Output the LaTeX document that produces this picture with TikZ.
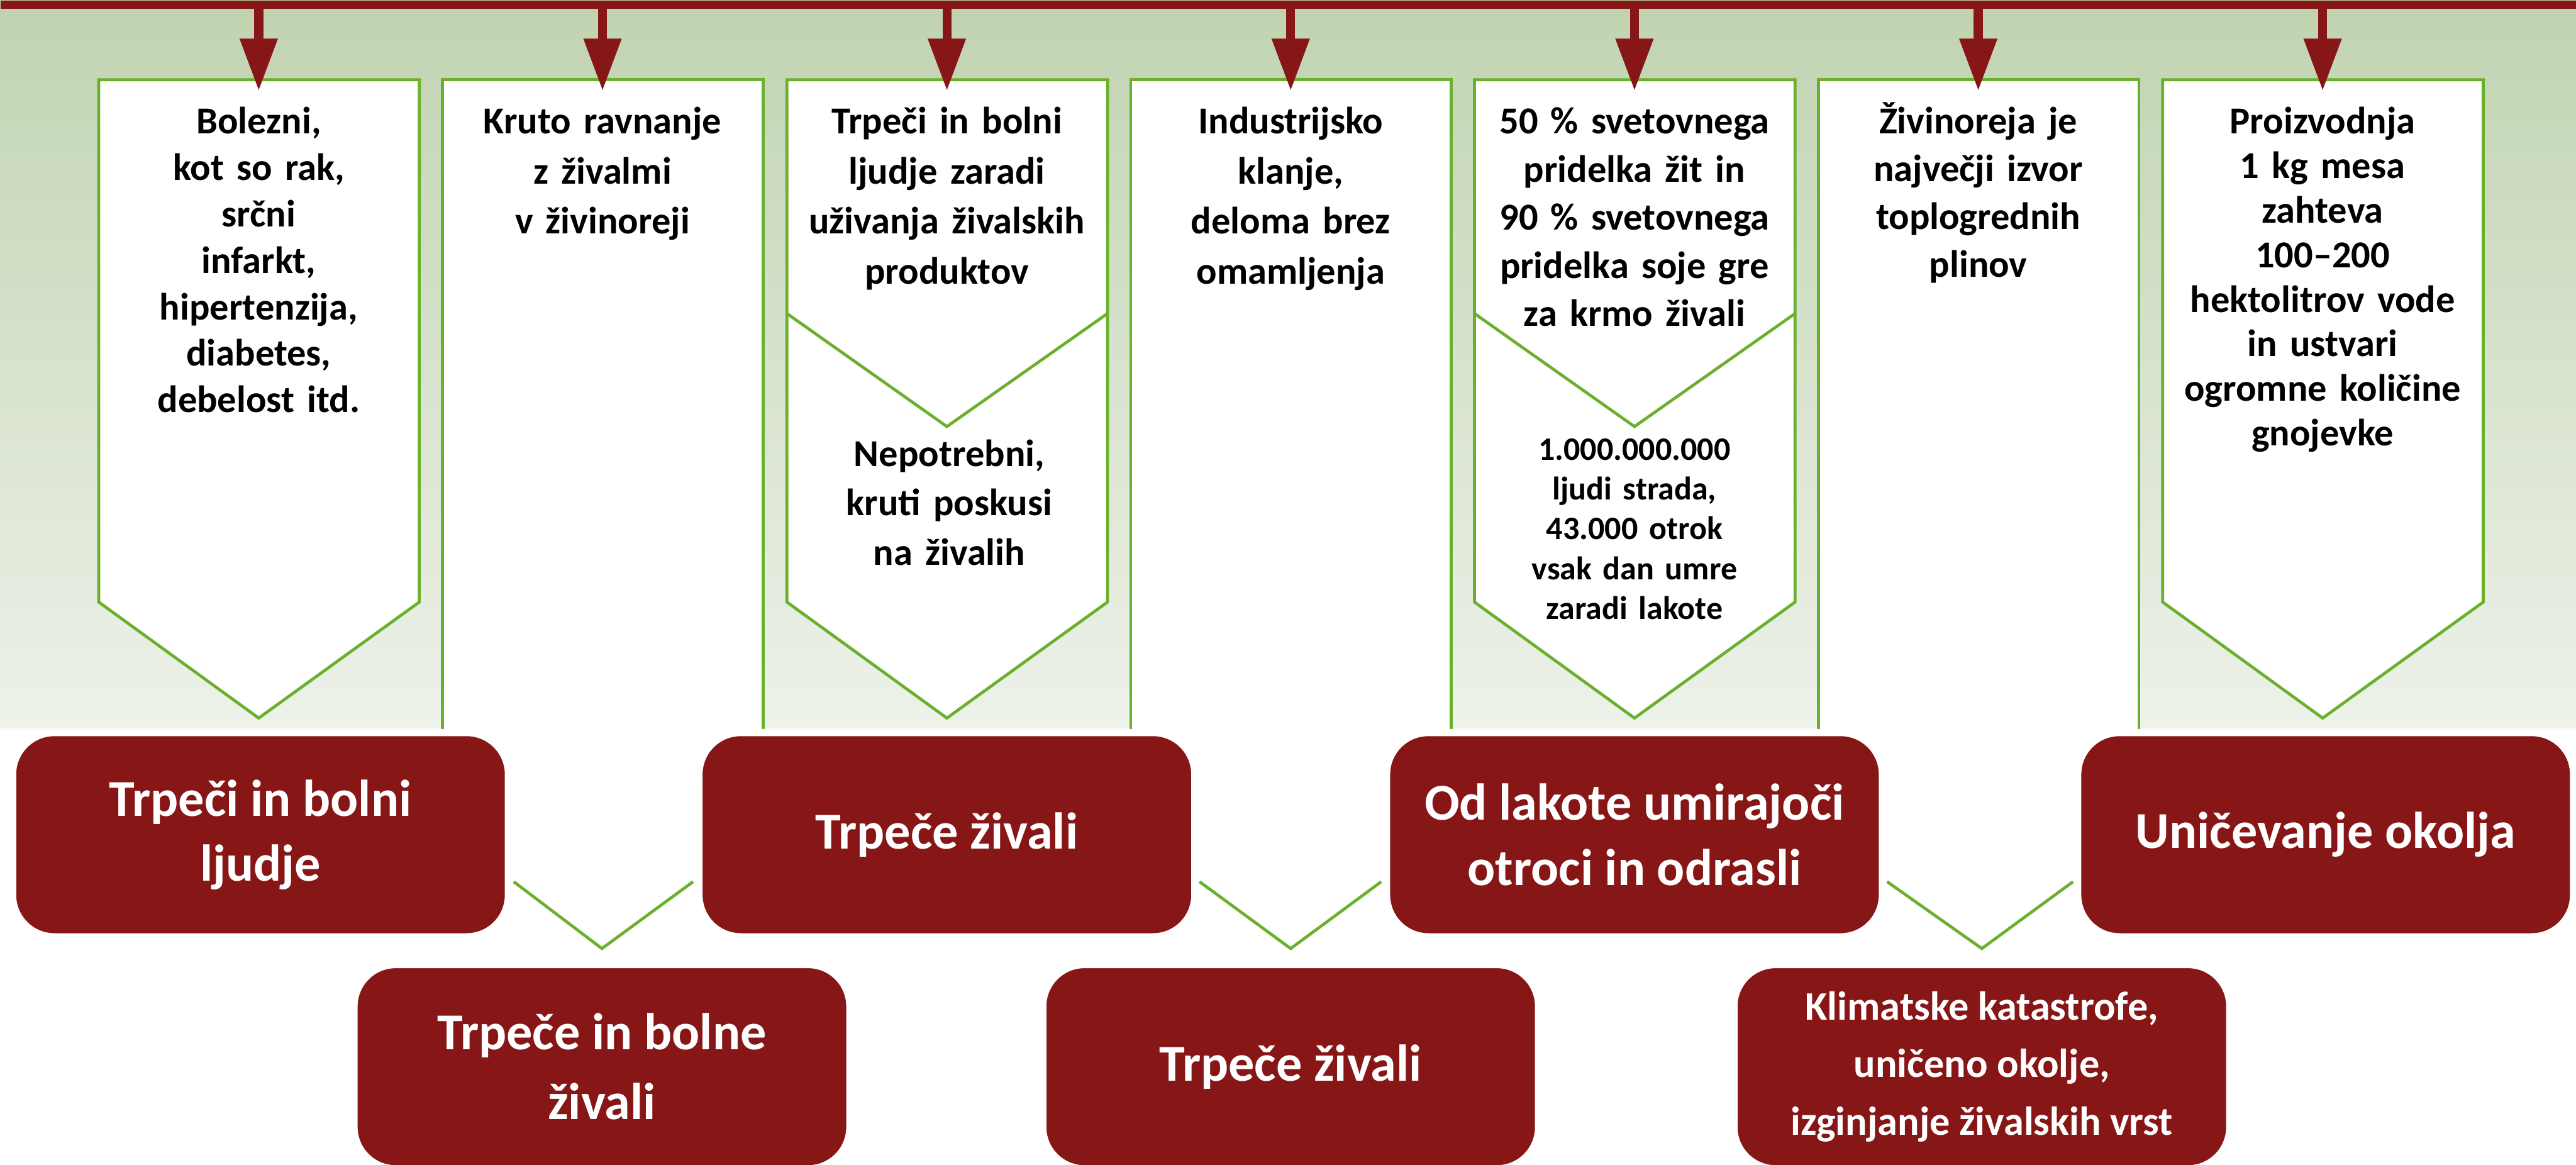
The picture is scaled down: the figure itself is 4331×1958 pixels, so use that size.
\documentclass[tikz,border=0pt]{standalone}
\usepackage{fontspec}
\setmainfont{Carlito}
\usetikzlibrary{arrows.meta,positioning}

\definecolor{wine}{HTML}{871717}
\definecolor{leaf}{HTML}{6AB02C}
\definecolor{sage}{HTML}{C0D3B0}
\definecolor{mist}{HTML}{EEF2EA}

\begin{document}
\begin{tikzpicture}[x=0.01cm,y=-0.01cm]
  \tikzset{colbox/.style={fill=white,draw=leaf,line width=0.05cm,line join=miter}};
  \tikzset{coltext/.style={font=\bfseries\fontsize{18.2}{22.8}\selectfont,text width=5.2cm,align=center,anchor=base,inner sep=0pt}};
  \tikzset{redbox/.style={fill=wine,draw=white,line width=0.12cm,outer sep=0pt,rounded corners=0.7cm,minimum width=8.33cm,minimum height=3.43cm,text=white,align=center,font=\bfseries\fontsize{24.75}{31}\selectfont}};
  \tikzset{downarr/.style={wine,line width=0.15cm,-{Triangle[length=0.88cm,width=0.6cm]}}};
  \tikzset{vline/.style={leaf,line width=0.05cm,line join=miter}};

  \useasboundingbox (0,0) rectangle (4331,1958);
  \fill[white] (0,0) rectangle (4331,1958);
  \shade[top color=sage,bottom color=mist] (0,0) rectangle (4331,1224);

  \node[fill=wine,minimum width=43.31cm,minimum height=0.14cm,inner sep=0pt,anchor=north west] (bar) at (0,0) {};

  \filldraw[colbox] (166,134) -- (705,134) -- (705,1012) -- (435,1207) -- (166,1012) -- cycle;
  \filldraw[colbox] (744,1225) -- (744,134) -- (1283,134) -- (1283,1225);
  \filldraw[colbox] (1323,134) -- (1862,134) -- (1862,1012) -- (1592,1207) -- (1323,1012) -- cycle;
  \draw[vline] (1323,527) -- (1592,717) -- (1862,527);
  \filldraw[colbox] (1901,1225) -- (1901,134) -- (2440,134) -- (2440,1225);
  \filldraw[colbox] (2479,134) -- (3018,134) -- (3018,1012) -- (2748,1207) -- (2479,1012) -- cycle;
  \draw[vline] (2479,527) -- (2748,717) -- (3018,527);
  \filldraw[colbox] (3057,1225) -- (3057,134) -- (3596,134) -- (3596,1225);
  \filldraw[colbox] (3636,134) -- (4175,134) -- (4175,1012) -- (3905,1207) -- (3636,1012) -- cycle;

  \coordinate (p1) at (435,153);
  \coordinate (p2) at (1013,153);
  \coordinate (p3) at (1592,153);
  \coordinate (p4) at (2170,153);
  \coordinate (p5) at (2748,153);
  \coordinate (p6) at (3326,153);
  \coordinate (p7) at (3905,153);
  \draw[downarr] (bar.center -| p1) -- (p1);
  \draw[downarr] (bar.center -| p2) -- (p2);
  \draw[downarr] (bar.center -| p3) -- (p3);
  \draw[downarr] (bar.center -| p4) -- (p4);
  \draw[downarr] (bar.center -| p5) -- (p5);
  \draw[downarr] (bar.center -| p6) -- (p6);
  \draw[downarr] (bar.center -| p7) -- (p7);

  \node[coltext,font=\bfseries\fontsize{18.2}{22.2}\selectfont] (t1) at (435,225)
    {Bolezni,\\ kot so rak,\\ srčni\\ infarkt,\\ hipertenzija,\\ diabetes,\\ debelost itd.};
  \node[coltext,font=\bfseries\fontsize{18.2}{23.9}\selectfont] (t2) at (1013,225)
    {Kruto ravnanje\\ z živalmi\\ v živinoreji};
  \node[coltext,font=\bfseries\fontsize{18.2}{23.9}\selectfont] (t3a) at (1592,225)
    {Trpeči in bolni\\ ljudje zaradi\\ uživanja živalskih\\ produktov};
  \node[coltext,font=\bfseries\fontsize{18.2}{23.6}\selectfont] (t3b) at (1596,784)
    {Nepotrebni,\\ kruti poskusi\\ na živalih};
  \node[coltext,font=\bfseries\fontsize{18.2}{23.9}\selectfont] (t4) at (2170,225)
    {Industrijsko\\ klanje,\\ deloma brez\\ omamljenja};
  \node[coltext,font=\bfseries\fontsize{18.2}{23}\selectfont] (t5a) at (2748,225)
    {50 \% svetovnega\\ pridelka žit in\\ 90 \% svetovnega\\ pridelka soje gre\\ za krmo živali};
  \node[coltext,font=\bfseries\fontsize{15.65}{19.06}\selectfont] (t5b) at (2748,773)
    {1.000.000.000\\ ljudi strada,\\ 43.000 otrok\\ vsak dan umre\\ zaradi lakote};
  \node[coltext] (t6) at (3326,225)
    {Živinoreja je\\ največji izvor\\ toplogrednih\\ plinov};
  \node[coltext,font=\bfseries\fontsize{18.2}{21.3}\selectfont] (t7) at (3905,225)
    {Proizvodnja\\ 1 kg mesa\\ zahteva\\ 100–200\\ hektolitrov vode\\ in ustvari\\ ogromne količine\\ gnojevke};

  \node[redbox] (A) at (438,1403) {Trpeči in bolni\\ ljudje};
  \node[redbox] (B) at (1592,1403) {Trpeče živali};
  \node[redbox] (C) at (2748,1403) {Od lakote umirajoči\\ otroci in odrasli};
  \node[redbox] (D) at (3910,1403) {Uničevanje okolja};
  \node[redbox,font=\bfseries\fontsize{24.75}{33.3}\selectfont] (E) at (1012,1793) {Trpeče in bolne\\ živali};
  \node[redbox] (F) at (2170,1793) {Trpeče živali};
  \node[redbox,font=\bfseries\fontsize{19.35}{27.6}\selectfont] (G) at (3332,1793) {Klimatske katastrofe,\\ uničeno okolje,\\ izginjanje živalskih vrst};

  \draw[vline] ([xshift=0.09cm,yshift=-0.79cm]A.east) -- ([yshift=0.27cm]E.north) -- ([xshift=-0.1cm,yshift=-0.79cm]B.west);
  \draw[vline] ([xshift=0.08cm,yshift=-0.79cm]B.east) -- ([yshift=0.27cm]F.north) -- ([xshift=-0.09cm,yshift=-0.79cm]C.west);
  \draw[vline] ([xshift=0.08cm,yshift=-0.79cm]C.east) -- ([yshift=0.27cm]G.north) -- ([xshift=-0.08cm,yshift=-0.79cm]D.west);
\end{tikzpicture}
\end{document}
